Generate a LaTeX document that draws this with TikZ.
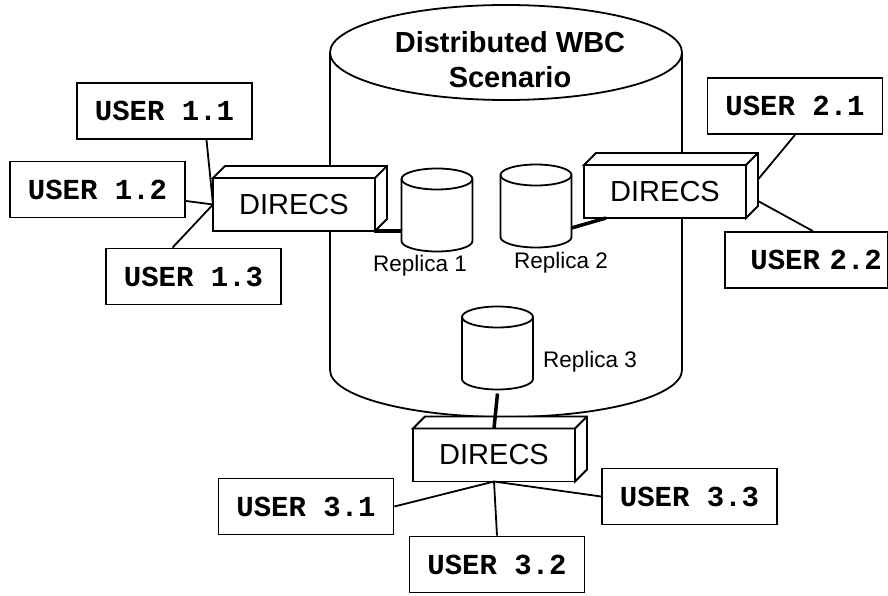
\documentclass[tikz,border=0pt]{standalone}
\usepackage{fontspec}
\setmainfont{Liberation Sans}
\newfontfamily\usermono{Liberation Mono}

\tikzset{
    user/.style={draw, fill=white, minimum width=175pt, minimum height=56pt, inner sep=0pt,
        font=\usermono\bfseries\fontsize{29}{30}\selectfont},
    direcs/.style={draw, fill=white, minimum width=162pt, minimum height=53pt, inner sep=0pt,
        outer sep=0pt, font=\fontsize{29}{30}\selectfont},
    replica/.style={minimum width=71pt, minimum height=83pt, inner sep=0pt, outer sep=0pt},
    replabel/.style={anchor=base, font=\fontsize{22.5}{24}\selectfont},
    link/.style={line width=3.5pt}
}

\begin{document}
\begin{tikzpicture}[x=1pt, y=1pt, line width=1.8pt]
        \useasboundingbox (0,0) rectangle (888,595);

        % the scenario cylinder
        \draw (330,542.5) -- (330,225) arc (180:360:176pt and 47pt) -- (682,542.5);
        \draw (506,542.5) ellipse (176pt and 47.5pt);
        \node[align=center, font=\bfseries\fontsize{29}{35}\selectfont] (title) at (510,535.5)
            {Distributed WBC\\Scenario};

        % replicas
        \node[replica] (rep1) at (437,385) {};
        \node[replica] (rep2) at (536,389) {};
        \node[replica] (rep3) at (497.5,247) {};
        \foreach \n in {rep1,rep2,rep3} {
            \draw[fill=white] ([yshift=-10.5pt]\n.north west) -- ([yshift=10.5pt]\n.south west)
                arc (180:360:35.5pt and 10.5pt) -- ([yshift=-10.5pt]\n.north east)
                arc (0:180:35.5pt and 10.5pt) -- cycle;
            \draw ([yshift=-10.5pt]\n.north west) arc (180:360:35.5pt and 10.5pt);
        }
        \node[replabel] (lab1) at (420,323) {Replica 1};
        \node[replabel] (lab2) at (561,326) {Replica 2};
        \node[replabel] (lab3) at (590,228) {Replica 3};

        % DIRECS boxes
        \node[direcs] (d1) at (294,390.5) {DIRECS};
        \node[direcs] (d2) at (665,403.5) {DIRECS};
        \node[direcs] (d3) at (494,140) {DIRECS};
        \foreach \n in {d1,d2,d3} {
            \draw[fill=white] (\n.north west) -- ++(12pt,12pt) -- ([shift={(12pt,12pt)}]\n.north east)
                -- ([shift={(12pt,12pt)}]\n.south east) -- (\n.south east) -- (\n.north east) -- cycle;
            \draw (\n.north east) -- ++(12pt,12pt);
        }

        \draw[link] (d1.south east) -- (d1.south east -| rep1.west);
        \draw[link] ([yshift=-22pt]rep2.east) -- ([xshift=22pt]d2.south west);
        \draw[link] ([yshift=-4pt]rep3.south) -- (d3.north);

        % users
        \node[user] (u11) at (164.5,484) {USER 1.1};
        \node[user] (u12) at (97.5,405.5) {USER 1.2};
        \node[user] (u13) at (193.5,318.5) {USER 1.3};
        \node[user] (u21) at (795,489) {USER 2.1};
        \node[user, anchor=west, minimum width=163pt, text width=151pt, inner xsep=6pt,
            align=right] (u22) at (724,335) {USER 2.2};
        \node[user] (u31) at (306,88.5) {USER 3.1};
        \node[user] (u32) at (497,30.5) {USER 3.2};
        \node[user] (u33) at (689.5,98.5) {USER 3.3};

        \draw ([xshift=42pt]u11.south) -- (d1.west);
        \draw (d1.west) -- (u12);
        \draw ([xshift=-21pt]u13.north) -- (d1.west);
        \draw (u21.south) -- ([shift={(12pt,12pt)}]d2.east);
        \draw ([xshift=6.5pt]u22.north) -- ([shift={(12pt,17pt)}]d2.south east);
        \draw (u31.east) -- (d3.south);
        \draw (u32.north) -- (d3.south);
        \draw (u33.west) -- (d3.south);

    \end{tikzpicture}
\end{document}
